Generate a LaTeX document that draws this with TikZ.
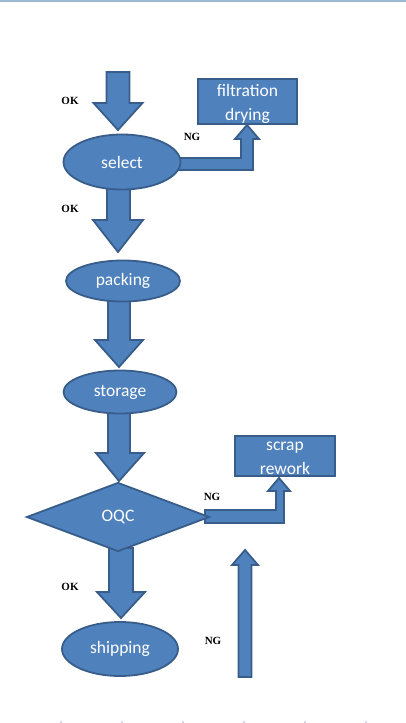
\documentclass[tikz,border=0pt]{standalone}
\usepackage{fontspec}
\setmainfont{Carlito}
\newfontfamily\labelfont{Liberation Serif}
\usetikzlibrary{shapes.geometric}
\definecolor{boxfill}{HTML}{4F81BD}
\definecolor{boxline}{HTML}{385D8A}
\definecolor{topline}{HTML}{9DBAD5}
\definecolor{dotcol}{HTML}{D6D6EE}
\tikzset{
  shapebase/.style={fill=boxfill, draw=boxline, line width=1.8pt, text=white, inner sep=0pt,
    font=\fontsize{17.5}{24}\selectfont, align=center},
  oval/.style={shapebase, ellipse},
  rectbox/.style={shapebase, rectangle},
  decide/.style={shapebase, diamond},
  boxtext/.style={text=white, font=\fontsize{17.5}{24}\selectfont, align=center, inner sep=0pt},
  blockarrow/.style={fill=boxfill, draw=boxline, line width=1.8pt, line join=miter},
  tag/.style={font=\labelfont\bfseries\fontsize{11}{12}\selectfont, text=black, inner sep=0pt}
}
\begin{document}
\begin{tikzpicture}[x=1pt,y=-1pt]
\useasboundingbox (0,0) rectangle (406,723);
\fill[topline] (0,0) rectangle (406,1.5);
\foreach \dx in {60,121,182,243,304,365} \fill[dotcol] (\dx,720.5) rectangle ++(2,2);

% block arrows (drawn first, shapes on top)
\draw[blockarrow] (106.5,72) -- (129.5,72) -- (129.5,103) -- (142.5,103) -- (118,130) -- (93.5,103) -- (106.5,103) -- cycle;
\draw[blockarrow] (107,185) -- (130,185) -- (130,220) -- (143,220) -- (118,252) -- (93,220) -- (107,220) -- cycle;
\draw[blockarrow] (108,298) -- (130,298) -- (130,340) -- (143,340) -- (119,367) -- (95,340) -- (108,340) -- cycle;
\draw[blockarrow] (108,410) -- (130,410) -- (130,453) -- (144,453) -- (119,481) -- (96,453) -- (108,453) -- cycle;
\draw[blockarrow] (109,548) -- (133,548) -- (133,592) -- (145,592) -- (121,618) -- (97,592) -- (109,592) -- cycle;
% NG elbow arrows
\draw[blockarrow] (175,158) -- (241,158) -- (241,139) -- (235,139) -- (247,125) -- (259,139) -- (253,139) -- (253,170) -- (175,170) -- cycle;
\draw[blockarrow] (205,510) -- (276,510) -- (276,491) -- (268,491) -- (279,478) -- (290,491) -- (284,491) -- (284,523) -- (205,523) -- cycle;
% up arrow
\draw[blockarrow] (238.5,677) -- (238.5,565) -- (232,565) -- (245,550) -- (258,565) -- (251.5,565) -- (251.5,677) -- cycle;

% nodes
\node[oval, minimum width=117pt, minimum height=55pt] (select) at (122,162) {select};
\node[oval, minimum width=114pt, minimum height=41pt] (packing) at (123,281) {packing};
\node[oval, minimum width=113pt, minimum height=43pt] (storage) at (120,392) {storage};
\node[decide, minimum width=183pt, minimum height=69pt] (oqc) at (118,517) {OQC};
\node[oval, minimum width=116pt, minimum height=54pt] (shipping) at (120,649) {shipping};
\node[rectbox, minimum width=99pt, minimum height=45pt] (filt) at (247.5,101.5) {};
\node[boxtext] (filttext) at (247.5,104) {filtration\\drying};
\node[rectbox, minimum width=100pt, minimum height=40pt] (scrap) at (285,456) {};
\node[boxtext] (scraptext) at (285,458) {scrap\\rework};

% labels
\node[tag] (ok1) at (70,101) {OK};
\node[tag] (ok2) at (70,209) {OK};
\node[tag] (ng1) at (192,137) {NG};
\node[tag] (ng2) at (212,497) {NG};
\node[tag] (ok3) at (70,587) {OK};
\node[tag] (ng3) at (213,641) {NG};
\end{tikzpicture}
\end{document}
